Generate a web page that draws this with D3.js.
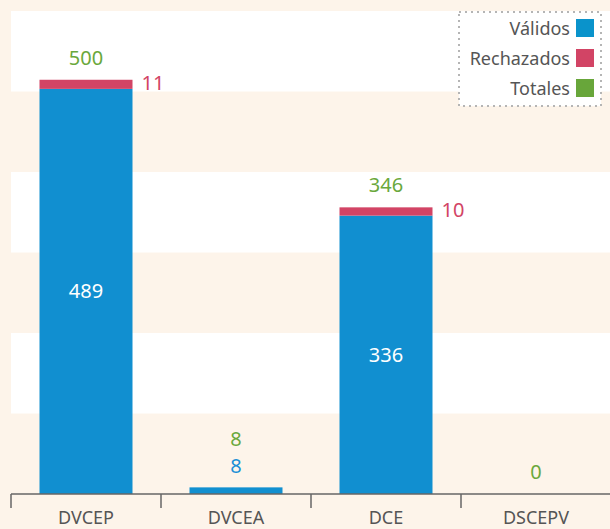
<!DOCTYPE html>
<html>
<head>
<meta charset="utf-8">
<script src="https://cdn.jsdelivr.net/npm/d3@7"></script>
<style>
  body { margin: 0; background: #fdf4ea; }
  svg { display: block; font-family: "Noto Sans", "Open Sans", sans-serif; }
</style>
</head>
<body>
<svg id="chart" width="610" height="529"></svg>
<script>
// Chart data
const categories = ['DVCEP', 'DVCEA', 'DCE', 'DSCEPV'];
const validos = [489, 8, 336, 0];
const rechazados = [11, 0, 10, 0];
const totales = [500, 8, 346, 0];
const legendLabels = ['Válidos', 'Rechazados', 'Totales'];

const colors = { validos: '#118fd0', rechazados: '#d24465', totales: '#6aa83c' };
const legendColors = ['#0a93cb', '#d24465', '#68a63a'];

const svg = d3.select('#chart');
const width = 610, height = 529;
const margin = { top: 11, right: 0, bottom: 35, left: 11 };
const yMax = 583;
const nBands = 6;

const x = d3.scaleBand()
  .domain(categories)
  .range([margin.left, margin.left + 600])
  .padding(0);

const y = d3.scaleLinear()
  .domain([0, yMax])
  .range([height - margin.bottom, margin.top]);

const barW = x.bandwidth() * 0.62;
const barX = d => x(d) + (x.bandwidth() - barW) / 2;

// Alternating background bands
const bands = d3.range(nBands).map(i => i * yMax / nBands);
svg.append('g')
  .selectAll('rect')
  .data(bands)
  .enter()
  .append('rect')
  .attr('x', margin.left)
  .attr('width', width - margin.left)
  .attr('y', d => y(d + yMax / nBands))
  .attr('height', d => y(d) - y(d + yMax / nBands))
  .attr('fill', (d, i) => (nBands - 1 - i) % 2 === 0 ? '#ffffff' : '#fdf4ea');

const rows = categories.map((c, i) => ({
  cat: c, v: validos[i], r: rechazados[i], t: totales[i]
}));

// Bars
const g = svg.append('g');
g.selectAll('.bar-v')
  .data(rows)
  .enter()
  .append('rect')
  .attr('x', d => barX(d.cat))
  .attr('width', barW)
  .attr('y', d => y(d.v))
  .attr('height', d => y(0) - y(d.v))
  .attr('fill', colors.validos);

g.selectAll('.bar-r')
  .data(rows.filter(d => d.r > 0))
  .enter()
  .append('rect')
  .attr('x', d => barX(d.cat))
  .attr('width', barW)
  .attr('y', d => y(d.v + d.r))
  .attr('height', d => y(d.v) - y(d.v + d.r))
  .attr('fill', colors.rechazados);

// Value labels
const labelSize = 20;
rows.forEach(d => {
  const cx = x(d.cat) + x.bandwidth() / 2;
  let top = y(d.t) - 15;
  if (d.v > 0) {
    const inside = y(0) - y(d.v) > 30;
    g.append('text')
      .attr('x', cx)
      .attr('y', inside ? (y(d.v) + y(0)) / 2 + 7 : y(d.v) - 14)
      .attr('text-anchor', 'middle')
      .attr('font-size', labelSize)
      .attr('fill', inside ? '#ffffff' : '#1b8fd6')
      .text(d.v);
    if (!inside) top = y(d.v) - 41;
  }
  if (d.r > 0) {
    g.append('text')
      .attr('x', barX(d.cat) + barW + 9)
      .attr('y', y(d.v) + 1)
      .attr('font-size', labelSize)
      .attr('fill', colors.rechazados)
      .text(d.r);
  }
  g.append('text')
    .attr('x', cx)
    .attr('y', top)
    .attr('text-anchor', 'middle')
    .attr('font-size', labelSize)
    .attr('fill', colors.totales)
    .text(d.t);
});

// X axis
const axis = svg.append('g');
axis.append('line')
  .attr('x1', margin.left)
  .attr('x2', width)
  .attr('y1', y(0))
  .attr('y2', y(0))
  .attr('stroke', '#666')
  .attr('stroke-width', 1.5);
axis.selectAll('.tick')
  .data(categories)
  .enter()
  .append('line')
  .attr('x1', d => x(d))
  .attr('x2', d => x(d))
  .attr('y1', y(0))
  .attr('y2', y(0) + 14)
  .attr('stroke', '#666')
  .attr('stroke-width', 1.5);
axis.selectAll('.lbl')
  .data(categories)
  .enter()
  .append('text')
  .attr('x', d => x(d) + x.bandwidth() / 2)
  .attr('y', y(0) + 30)
  .attr('text-anchor', 'middle')
  .attr('font-size', 18)
  .attr('fill', '#555')
  .text(d => d);

// Legend
const legend = svg.append('g');
legend.append('rect')
  .attr('x', 459)
  .attr('y', 12)
  .attr('width', 142)
  .attr('height', 94)
  .attr('fill', '#ffffff')
  .attr('stroke', '#b5b5b5')
  .attr('stroke-width', 2)
  .attr('stroke-dasharray', '2,4');
const items = legend.selectAll('.item')
  .data(legendLabels)
  .enter()
  .append('g')
  .attr('transform', (d, i) => `translate(0, ${i * 30})`);
items.append('rect')
  .attr('x', 576)
  .attr('y', 19)
  .attr('width', 18)
  .attr('height', 18)
  .attr('fill', (d, i) => legendColors[i]);
items.append('text')
  .attr('x', 570)
  .attr('y', 35)
  .attr('text-anchor', 'end')
  .attr('font-size', 18)
  .attr('fill', '#555')
  .text(d => d);
</script>
</body>
</html>
